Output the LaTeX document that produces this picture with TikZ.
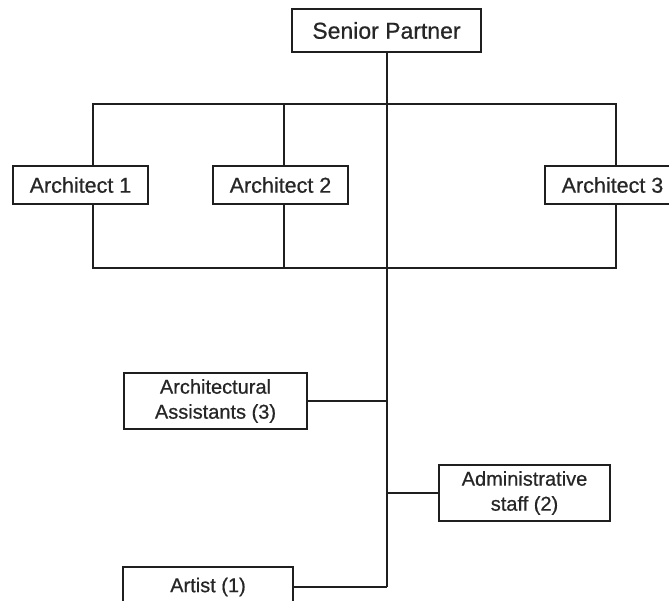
\documentclass[tikz,border=0pt]{standalone}
\usepackage{fontspec}
\setmainfont{Liberation Sans}[FakeBold=0.6]
\begin{document}
\begin{tikzpicture}[x=1pt,y=-1pt,
  box/.style={draw=black!88, line width=2pt, fill=white, inner sep=0pt, align=center, text=black!85},
  link/.style={draw=black!88, line width=2pt},
  big/.style={font=\fontsize{23}{26}\selectfont},
  mid/.style={font=\fontsize{21.5}{24}\selectfont},
  small/.style={font=\fontsize{20}{25}\selectfont}]
\useasboundingbox (0,0) rectangle (669,601);

% boxes
\node[box,big,minimum width=189pt,minimum height=43pt] (sp) at (386.5,30.5) {Senior Partner};
\node[box,mid,minimum width=135pt,minimum height=38pt] (a1) at (80.5,185) {Architect 1};
\node[box,mid,minimum width=135pt,minimum height=38pt] (a2) at (280.5,185) {Architect 2};
\node[box,mid,minimum width=135pt,minimum height=38pt] (a3) at (612.5,185) {Architect 3};
\node[box,small,minimum width=183pt,minimum height=56pt] (aa) at (215.5,401) {Architectural\\Assistants (3)};
\node[box,small,minimum width=171pt,minimum height=56pt] (adm) at (524.5,493) {Administrative\\staff (2)};
\node[box,small,minimum width=170pt,minimum height=40pt] (art) at (208,587) {Artist (1)};

% corners of the architects' frame
\coordinate (tl) at (93,104);
\coordinate (tr) at (616,104);
\coordinate (bl) at (93,268);
\coordinate (br) at (616,268);
\coordinate (tm) at (284,104);
\coordinate (bm) at (284,268);
\coordinate (spine) at (sp.south |- art.east);

% frame around the architects
\draw[link] (a1.north -| tl) -- (tl) -- (tr) -- (a3.north -| tr);
\draw[link] (a1.south -| bl) -- (bl) -- (br) -- (a3.south -| br);
\draw[link] (a2.north -| tm) -- (tm);
\draw[link] (a2.south -| bm) -- (bm);

% main spine and branches
\draw[link] (sp.south) -- (spine);
\draw[link] (aa.east) -- (aa.east -| spine);
\draw[link] (adm.west) -- (adm.west -| spine);
\draw[link] (art.east) -- (spine);
\end{tikzpicture}
\end{document}
